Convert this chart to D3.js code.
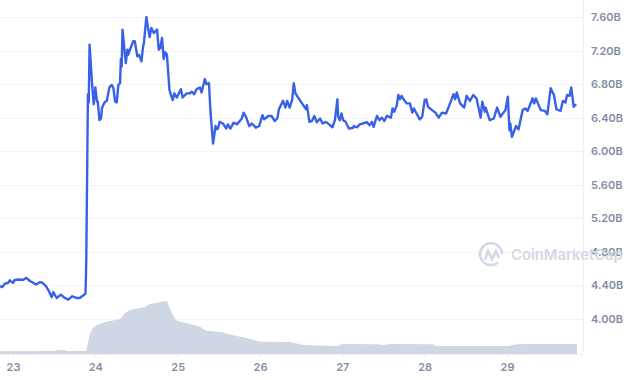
<!DOCTYPE html>
<html>
<head>
<meta charset="utf-8">
<script src="https://cdn.jsdelivr.net/npm/d3@7"></script>
<style>
html, body {margin: 0; background: #fff;}
svg {display: block;}
text {font-family: Inter, 'Noto Sans', sans-serif;}
</style>
</head>
<body>
<div id="chart"></div>
<script>
var dayTicks = [23, 24, 25, 26, 27, 28, 29]
var priceTicks = [4.0, 4.4, 4.8, 5.2, 5.6, 6.0, 6.4, 6.8, 7.2, 7.6]

// day of month, price in billions
var priceDays = [
  22.84, 22.87, 22.90, 22.94, 22.96, 23.00, 23.02, 23.08, 23.12, 23.16, 23.21, 23.25, 23.28, 23.33, 23.36,
  23.40, 23.44, 23.47, 23.49, 23.53, 23.58, 23.63, 23.67, 23.72, 23.77, 23.81, 23.88, 23.885, 23.89,
  23.91, 23.92, 23.93, 23.96, 23.98, 24.00, 24.02, 24.03, 24.05, 24.07, 24.08, 24.10, 24.12, 24.14, 24.17,
  24.20, 24.22, 24.24, 24.26, 24.28, 24.30, 24.31, 24.32, 24.33, 24.35, 24.37, 24.39, 24.40, 24.42, 24.46,
  24.48, 24.51, 24.53, 24.56, 24.58, 24.59, 24.62, 24.64, 24.66, 24.68, 24.71, 24.75, 24.77, 24.79, 24.81,
  24.83, 24.85, 24.87, 24.90, 24.92, 24.94, 24.96, 24.99, 25.04, 25.06, 25.11, 25.15, 25.17, 25.20, 25.23,
  25.27, 25.29, 25.33, 25.35, 25.38, 25.40, 25.43, 25.46, 25.47, 25.49, 25.51, 25.55, 25.59, 25.61, 25.64,
  25.68, 25.72, 25.78, 25.80, 25.83, 25.87, 25.90, 25.95, 25.99, 26.03, 26.05, 26.10, 26.14, 26.18, 26.21,
  26.23, 26.28, 26.31, 26.33, 26.36, 26.39, 26.41, 26.43, 26.47, 26.51, 26.56, 26.57, 26.60, 26.63, 26.66,
  26.69, 26.73, 26.76, 26.80, 26.84, 26.88, 26.91, 26.94, 26.95, 26.97, 26.99, 27.01, 27.04, 27.08, 27.13,
  27.14, 27.18, 27.21, 27.30, 27.33, 27.36, 27.38, 27.42, 27.45, 27.48, 27.51, 27.54, 27.59, 27.61, 27.63,
  27.66, 27.68, 27.70, 27.72, 27.75, 27.78, 27.82, 27.85, 27.87, 27.89, 27.94, 27.97, 28.00, 28.02, 28.04,
  28.09, 28.13, 28.17, 28.21, 28.26, 28.32, 28.35, 28.37, 28.39, 28.43, 28.48, 28.51, 28.55, 28.59, 28.63,
  28.68, 28.70, 28.73, 28.74, 28.79, 28.84, 28.88, 28.92, 28.98, 29.01, 29.03, 29.04, 29.06, 29.11, 29.14,
  29.19, 29.22, 29.25, 29.31, 29.33, 29.35, 29.41, 29.46, 29.49, 29.53, 29.57, 29.60, 29.65, 29.68, 29.71,
  29.73, 29.76, 29.78, 29.81, 29.84
]

var priceValues = [
  4.39, 4.38, 4.42, 4.43, 4.46, 4.43, 4.465, 4.47, 4.465, 4.49, 4.45, 4.43, 4.41, 4.44, 4.43,
  4.39, 4.325, 4.26, 4.32, 4.25, 4.29, 4.25, 4.23, 4.27, 4.25, 4.25, 4.30, 4.465, 4.70,
  6.68, 6.58, 7.27, 6.81, 6.56, 6.76, 6.59, 6.59, 6.37, 6.39, 6.51, 6.56, 6.59, 6.60, 6.76,
  6.79, 6.75, 6.59, 6.58, 6.79, 6.81, 7.10, 7.01, 7.45, 7.25, 7.05, 7.21, 7.15, 7.21, 7.31,
  7.31, 7.13, 7.15, 7.07, 7.25, 7.29, 7.60, 7.47, 7.36, 7.47, 7.41, 7.45, 7.21, 7.23, 7.35,
  7.10, 7.18, 7.15, 6.73, 6.67, 6.61, 6.69, 6.64, 6.74, 6.64, 6.69, 6.69, 6.71, 6.68, 6.74,
  6.76, 6.70, 6.86, 6.80, 6.81, 6.45, 6.09, 6.30, 6.26, 6.27, 6.35, 6.33, 6.27, 6.32, 6.27,
  6.34, 6.32, 6.39, 6.46, 6.41, 6.30, 6.33, 6.28, 6.30, 6.43, 6.38, 6.42, 6.42, 6.36, 6.39,
  6.50, 6.60, 6.52, 6.60, 6.52, 6.61, 6.81, 6.69, 6.63, 6.57, 6.50, 6.55, 6.35, 6.36, 6.42,
  6.345, 6.39, 6.33, 6.35, 6.32, 6.285, 6.37, 6.62, 6.41, 6.37, 6.45, 6.37, 6.35, 6.27, 6.28,
  6.30, 6.285, 6.32, 6.345, 6.31, 6.35, 6.29, 6.42, 6.37, 6.40, 6.36, 6.42, 6.40, 6.51, 6.47,
  6.54, 6.67, 6.62, 6.66, 6.61, 6.57, 6.57, 6.46, 6.51, 6.47, 6.38, 6.41, 6.61, 6.62, 6.53,
  6.49, 6.46, 6.40, 6.46, 6.45, 6.60, 6.68, 6.62, 6.70, 6.57, 6.52, 6.66, 6.60, 6.67, 6.63,
  6.40, 6.59, 6.47, 6.52, 6.37, 6.39, 6.52, 6.41, 6.49, 6.65, 6.25, 6.33, 6.17, 6.30, 6.26,
  6.49, 6.51, 6.48, 6.63, 6.57, 6.63, 6.49, 6.48, 6.44, 6.75, 6.67, 6.50, 6.48, 6.60, 6.58,
  6.67, 6.66, 6.76, 6.53, 6.56
]

// volume in billions, on its own hidden scale
var volumeDays = [
  22.84, 23.51, 23.55, 23.63, 23.66, 23.89, 23.90, 23.93, 23.97, 24.02, 24.12, 24.30, 24.36, 24.42, 24.60,
  24.66, 24.87, 24.91, 24.97, 25.00, 25.15, 25.27, 25.35, 25.54, 25.61, 25.72, 25.88, 26.00, 26.36, 26.53,
  26.81, 26.95, 26.99, 27.42, 27.48, 27.60, 28.10, 28.10, 28.13, 29.04, 29.05, 29.18, 29.85
]
var volumeValues = [
  0.28, 0.30, 0.40, 0.40, 0.30, 0.30, 0.70, 1.90, 2.60, 2.90, 3.20, 3.50, 4.10, 4.40, 4.70,
  5.00, 5.30, 4.40, 3.50, 3.30, 3.00, 2.73, 2.33, 2.17, 2.00, 1.80, 1.53, 1.23, 1.20, 0.90,
  0.83, 0.80, 1.00, 0.97, 0.90, 1.00, 0.97, 0.95, 0.80, 0.80, 0.90, 1.00, 1.00
]

var width = 630, height = 380
var plotRight = 583, plotBottom = 354

var svg = d3.select('#chart').append('svg')
  .attr('width', width)
  .attr('height', height)

var x = d3.scaleLinear().domain([23, 29]).range([13, 507])
var y = d3.scaleLinear().domain([3.6, 7.6]).range([352.5, 17])
var yVol = d3.scaleLinear().domain([0, 35.4]).range([plotBottom, 0])

var priceData = priceDays.map((d, i) => ({day: d, value: priceValues[i]}))
var volumeData = volumeDays.map((d, i) => ({day: d, value: volumeValues[i]}))

// grid
svg.append('g').selectAll('line')
  .data(priceTicks)
  .join('line')
  .attr('x1', 0)
  .attr('x2', plotRight)
  .attr('y1', d => Math.round(y(d)) + .5)
  .attr('y2', d => Math.round(y(d)) + .5)
  .attr('stroke', '#f3f4f7')

svg.append('line')
  .attr('x1', plotRight + .5).attr('x2', plotRight + .5)
  .attr('y1', 0).attr('y2', plotBottom)
  .attr('stroke', '#f0f1f5')

// volume
svg.append('path')
  .datum(volumeData)
  .attr('fill', '#cfd6e4')
  .attr('d', d3.area().x(d => x(d.day)).y0(plotBottom).y1(d => yVol(d.value)))

// axes
var xAxis = svg.append('g')
  .attr('transform', `translate(0,${plotBottom})`)
  .call(d3.axisBottom(x).tickValues(dayTicks).tickFormat(d3.format('d')).tickSize(3).tickPadding(6))

var yAxis = svg.append('g')
  .attr('transform', `translate(${plotRight},0)`)
  .call(d3.axisRight(y).tickValues(priceTicks).tickFormat(d => d.toFixed(2) + 'B').tickSize(0).tickPadding(8))

xAxis.select('.domain').attr('d', `M0,0.5H${plotRight}`).attr('stroke', '#f0f1f5')
xAxis.selectAll('.tick line').attr('stroke', '#e4e7ee')
yAxis.select('.domain').remove()

svg.selectAll('.tick text')
  .attr('fill', '#858ca2')
  .style('font-family', 'Inter, sans-serif')
  .style('font-size', '11px')
  .style('font-weight', 600)

// watermark
var mark = svg.append('g').attr('fill', 'none').attr('stroke', '#d3d9e4').attr('stroke-width', 2.6)
mark.append('path').attr('d', 'M502,254a11,11 0 1 0 -4,8.6')
mark.append('path').attr('d', 'M485,260l3,-9l4,8l4,-8l3,7')
svg.append('text')
  .attr('x', 511)
  .attr('y', 260)
  .attr('fill', '#d3d9e4')
  .style('font-size', '14.8px')
  .style('font-weight', 600)
  .text('CoinMarketCap')

// price line
svg.append('path')
  .datum(priceData)
  .attr('fill', 'none')
  .attr('stroke', '#3861e8')
  .attr('stroke-width', 2.4)
  .attr('stroke-linejoin', 'round')
  .attr('d', d3.line().x(d => x(d.day)).y(d => y(d.value)))
</script>
</body>
</html>
